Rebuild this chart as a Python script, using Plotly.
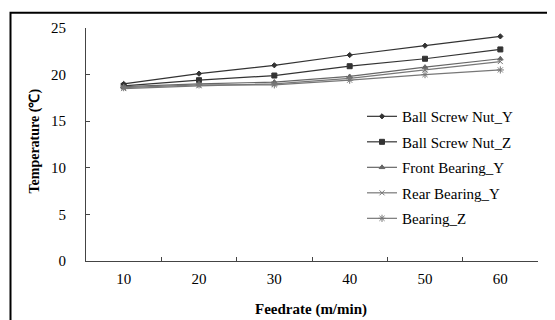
import plotly.graph_objects as go

feedrate = ["10", "20", "30", "40", "50", "60"]
ball_screw_nut_y = [19.0, 20.1, 21.0, 22.1, 23.1, 24.1]
ball_screw_nut_z = [18.8, 19.4, 19.9, 20.9, 21.7, 22.7]
front_bearing_y = [18.7, 19.0, 19.2, 19.8, 20.8, 21.7]
rear_bearing_y = [18.5, 18.8, 19.0, 19.6, 20.5, 21.4]
bearing_z = [18.6, 18.9, 18.9, 19.4, 20.0, 20.5]
y_ticks = [0, 5, 10, 15, 20, 25]

series = [
    ("Ball Screw Nut_Y", ball_screw_nut_y, "diamond", 4, "#333333"),
    ("Ball Screw Nut_Z", ball_screw_nut_z, "square", 5, "#333333"),
    ("Front Bearing_Y", front_bearing_y, "triangle-up", 5, "#666666"),
    ("Rear Bearing_Y", rear_bearing_y, "x-thin-open", 5, "#777777"),
    ("Bearing_Z", bearing_z, "asterisk-open", 6, "#777777"),
]

SERIF = "Liberation Serif, Times New Roman, serif"

fig = go.Figure()
for i, (name, vals, sym, sz, col) in enumerate(series):
    fig.add_trace(go.Scatter(
        x=feedrate, y=vals, name=name, mode="lines+markers",
        line=dict(color=col, width=1.2),
        marker=dict(symbol=sym, size=sz, color=col, line=dict(color=col, width=1)),
        legendgroup=f"g{i}",
    ))

# page body has an 8px margin, so figure is drawn offset by 8px
O = 8
W, H = 555 - O, 320 - O
L, R, T, B = 86 - O, 538 - O, 25 - O, 261 - O
pw, ph = R - L, B - T

def px(x):  # screen x -> paper
    return (x - O - L) / pw

def py(y):  # screen y -> paper
    return (B - (y - O)) / ph

fig.update_layout(
    width=W, height=H,
    margin=dict(l=L, r=W - R, t=T, b=H - B),
    paper_bgcolor="white", plot_bgcolor="white",
    font=dict(family=SERIF, color="black", size=13),
    showlegend=True,
    legend=dict(
        x=px(362), y=py(98), xanchor="left", yanchor="top",
        font=dict(family=SERIF, size=15, color="black"),
        bgcolor="rgba(0,0,0,0)", itemwidth=30, tracegroupgap=3,
        traceorder="grouped",
    ),
    xaxis=dict(
        type="category", range=[-0.5, 5.5],
        showgrid=False, zeroline=False,
        showline=True, linecolor="#444444", linewidth=1,
        ticks="inside", ticklen=4, tickcolor="#444444", tickson="boundaries",
        tickfont=dict(family=SERIF, size=15),
        ticklabelstandoff=4,
    ),
    yaxis=dict(
        range=[0, 25], tickvals=y_ticks,
        showgrid=False, zeroline=False,
        showline=True, linecolor="#444444", linewidth=1,
        ticks="inside", ticklen=4, tickcolor="#444444",
        tickfont=dict(family=SERIF, size=15),
        ticklabelstandoff=16,
    ),
    annotations=[
        dict(text="<b>Feedrate (m/min)</b>", xref="paper", yref="paper",
             x=px(311), y=py(310), xanchor="center", yanchor="middle",
             showarrow=False, font=dict(family=SERIF, size=15)),
        dict(text="<b>Temperature (℃)</b>", xref="paper", yref="paper",
             x=px(35), y=py(140), xanchor="center", yanchor="middle",
             textangle=-90, showarrow=False,
             font=dict(family=SERIF, size=14)),
    ],
    shapes=[dict(
        type="rect", xref="paper", yref="paper",
        x0=px(10.5), x1=px(550), y0=py(330), y1=py(9.5),
        line=dict(color="black", width=2), fillcolor="rgba(0,0,0,0)",
        layer="above",
    )],
)

fig.write_html("out.html")
